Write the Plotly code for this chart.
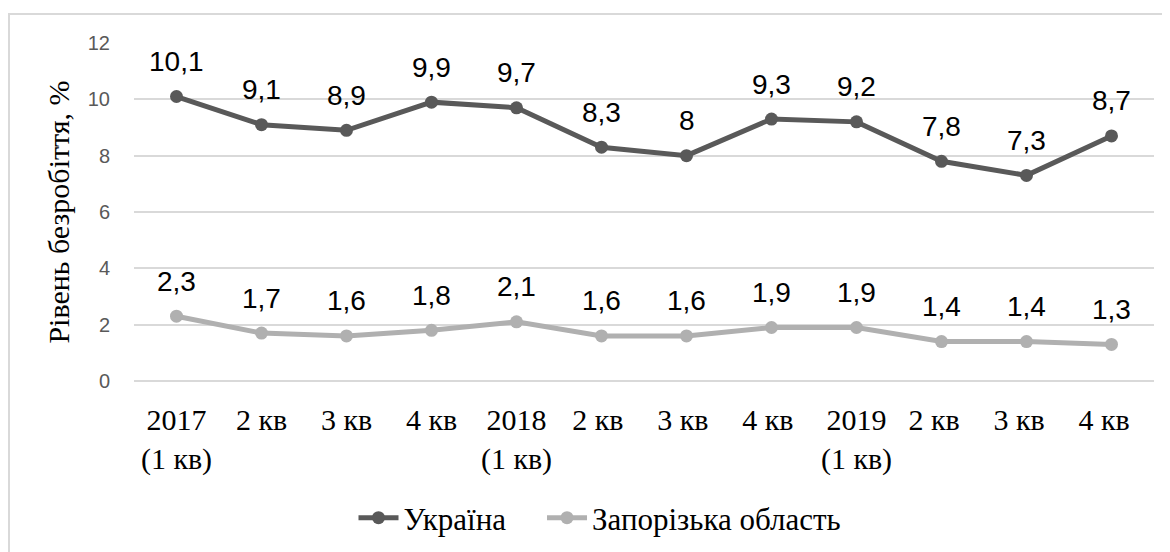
import plotly.graph_objects as go

categories = ["2017<br>(1 кв)", "2 кв", "3 кв", "4 кв", "2018<br>(1 кв)", "2 кв ", "3 кв ", "4 кв ",
              "2019<br>(1 кв)", "2 кв  ", "3 кв  ", "4 кв  "]
ukraine = [10.1, 9.1, 8.9, 9.9, 9.7, 8.3, 8.0, 9.3, 9.2, 7.8, 7.3, 8.7]
zaporizhzhia = [2.3, 1.7, 1.6, 1.8, 2.1, 1.6, 1.6, 1.9, 1.9, 1.4, 1.4, 1.3]
series_names = ["Україна", "Запорізька область"]
series_colors = ["#595959", "#b0b0b0"]
y_ticks = [0, 2, 4, 6, 8, 10, 12]

def fmt(v):
    return ("%g" % v).replace(".", ",")

fig = go.Figure()
for i, (name, vals, col) in enumerate(zip(series_names, [ukraine, zaporizhzhia], series_colors)):
    legend_name = name + ("&nbsp;" * 4 if i == 0 else "")
    fig.add_trace(go.Scatter(
        x=categories, y=vals, name=legend_name, mode="lines+markers",
        line=dict(color=col, width=5),
        marker=dict(color=col, size=13),
    ))
    for c, v in zip(categories, vals):
        fig.add_annotation(x=c, y=v, text=fmt(v), showarrow=False, yshift=35,
                           font=dict(family="Liberation Sans, Arial", size=28, color="#000000"))

W, H = 1170, 552
OFF = 8  # page body margin offset
# desired on-screen plot box
sl, sr, st, sb = 134, 1154, 43, 381
ml, mt = sl - OFF, st - OFF
mr = W - (sr - OFF)
mb = H - (sb - OFF)
pw, ph = W - ml - mr, H - mt - mb

def px(x):  # screen x -> paper
    return (x - OFF - ml) / pw

def py(y):  # screen y -> paper
    return (sb - y) / ph

# outer chart border
fig.add_shape(type="rect", xref="paper", yref="paper",
              x0=px(9), x1=px(W + 30), y0=py(H + 30), y1=py(14),
              line=dict(color="#d9d9d9", width=2), fillcolor="rgba(0,0,0,0)", layer="below")

serif = "Liberation Serif, Times New Roman"
fig.update_layout(
    width=W, height=H,
    margin=dict(l=ml, r=mr, t=mt, b=mb, autoexpand=False),
    paper_bgcolor="white", plot_bgcolor="white",
    showlegend=True,
    legend=dict(orientation="h", x=px(600), xanchor="center", y=py(518), yanchor="middle",
                font=dict(family=serif, size=31, color="#000000"),
                itemwidth=40, tracegroupgap=0),
    xaxis=dict(type="category", range=[-0.5, 11.5], showgrid=False, showline=False, zeroline=False,
               automargin=False, ticks="outside", ticklen=12, tickcolor="rgba(0,0,0,0)",
               tickfont=dict(family=serif, size=30, color="#000000")),
    yaxis=dict(range=[0, 12], tickvals=y_ticks, showgrid=True, gridcolor="#d9d9d9", gridwidth=1.5,
               zeroline=True, zerolinecolor="#d9d9d9", zerolinewidth=1.5, showline=False, automargin=False,
               ticks="outside", ticklen=19, tickcolor="rgba(0,0,0,0)",
               tickfont=dict(family="Liberation Sans, Arial", size=20, color="#595959"),
               title=dict(text="Рівень безробіття, %", standoff=9,
                          font=dict(family=serif, size=30, color="#000000"))),
)

fig.write_html("out.html")
